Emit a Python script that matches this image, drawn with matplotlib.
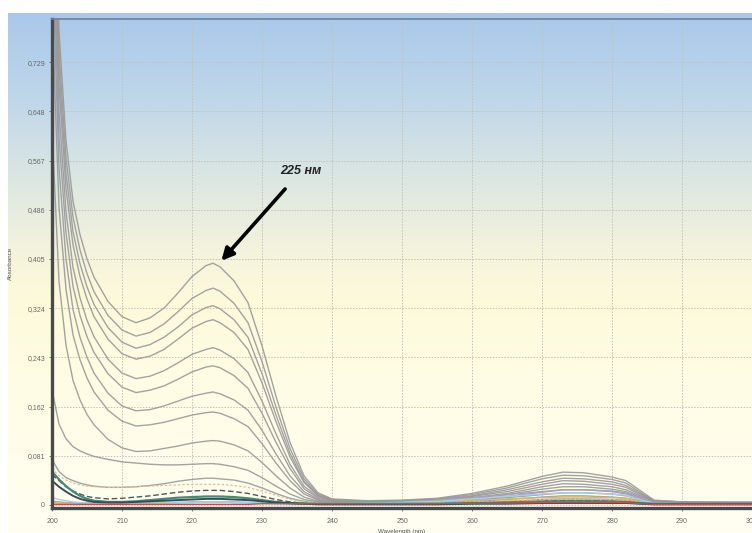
import matplotlib
matplotlib.use("Agg")
import numpy as np
import matplotlib.pyplot as plt
from matplotlib.colors import LinearSegmentedColormap

plt.rcParams["font.family"] = ["Liberation Sans", "DejaVu Sans"]

# wavelength grid, nm
wavelength = [200, 201, 202, 203, 204, 205, 206, 208, 210, 212,
              214, 216, 218, 220, 222, 223, 224,
              226, 228, 230, 232, 234, 236, 238, 240,
              245, 250, 255, 260, 265, 270, 273, 276, 280, 282, 284, 286, 290, 295, 300]

# grey spectra, highest concentration first
spec_1 = [1.212, 0.780, 0.600, 0.500, 0.445, 0.405, 0.375, 0.335, 0.310, 0.300,
          0.308, 0.324, 0.349, 0.376, 0.394, 0.398, 0.392,
          0.369, 0.333, 0.262, 0.179, 0.103, 0.048, 0.020, 0.010,
          0.007, 0.008, 0.011, 0.019, 0.031, 0.047, 0.054, 0.053, 0.046, 0.040, 0.024, 0.008, 0.005, 0.005, 0.005]
spec_2 = [1.171, 0.748, 0.572, 0.474, 0.420, 0.381, 0.351, 0.312, 0.288, 0.278,
          0.284, 0.298, 0.318, 0.340, 0.353, 0.357, 0.352,
          0.332, 0.300, 0.236, 0.161, 0.093, 0.043, 0.018, 0.009,
          0.006, 0.007, 0.010, 0.017, 0.028, 0.043, 0.049, 0.048, 0.042, 0.036, 0.021, 0.007, 0.005, 0.004, 0.004]
spec_3 = [1.132, 0.718, 0.546, 0.450, 0.397, 0.359, 0.330, 0.292, 0.268, 0.258,
          0.264, 0.276, 0.293, 0.313, 0.325, 0.328, 0.323,
          0.305, 0.276, 0.216, 0.148, 0.085, 0.039, 0.016, 0.008,
          0.006, 0.007, 0.009, 0.015, 0.025, 0.038, 0.044, 0.043, 0.038, 0.032, 0.019, 0.007, 0.005, 0.004, 0.004]
spec_4 = [1.095, 0.690, 0.521, 0.428, 0.376, 0.339, 0.310, 0.273, 0.249, 0.240,
          0.245, 0.256, 0.273, 0.291, 0.302, 0.305, 0.300,
          0.284, 0.256, 0.201, 0.137, 0.079, 0.037, 0.015, 0.008,
          0.005, 0.006, 0.008, 0.014, 0.022, 0.034, 0.040, 0.039, 0.034, 0.029, 0.017, 0.006, 0.004, 0.004, 0.004]
spec_5 = [1.044, 0.648, 0.483, 0.391, 0.341, 0.304, 0.277, 0.240, 0.217, 0.208,
          0.212, 0.221, 0.234, 0.248, 0.256, 0.259, 0.255,
          0.241, 0.218, 0.171, 0.117, 0.067, 0.031, 0.013, 0.007,
          0.005, 0.006, 0.007, 0.012, 0.019, 0.030, 0.035, 0.034, 0.030, 0.025, 0.015, 0.006, 0.004, 0.004, 0.003]
spec_6 = [0.983, 0.605, 0.448, 0.360, 0.312, 0.277, 0.251, 0.216, 0.194, 0.185,
          0.189, 0.196, 0.207, 0.219, 0.227, 0.229, 0.226,
          0.213, 0.192, 0.151, 0.103, 0.060, 0.027, 0.011, 0.006,
          0.004, 0.005, 0.007, 0.011, 0.017, 0.026, 0.030, 0.030, 0.026, 0.022, 0.013, 0.005, 0.004, 0.003, 0.003]
spec_7 = [0.915, 0.555, 0.405, 0.322, 0.276, 0.243, 0.217, 0.184, 0.163, 0.155,
          0.157, 0.163, 0.171, 0.179, 0.184, 0.186, 0.183,
          0.173, 0.156, 0.123, 0.084, 0.048, 0.022, 0.009, 0.005,
          0.004, 0.005, 0.006, 0.009, 0.014, 0.021, 0.025, 0.025, 0.022, 0.018, 0.011, 0.004, 0.003, 0.003, 0.003]
spec_8 = [0.814, 0.490, 0.355, 0.280, 0.239, 0.209, 0.186, 0.156, 0.138, 0.130,
          0.132, 0.136, 0.142, 0.148, 0.152, 0.153, 0.151,
          0.142, 0.129, 0.101, 0.069, 0.040, 0.018, 0.008, 0.004,
          0.003, 0.004, 0.005, 0.008, 0.012, 0.017, 0.020, 0.020, 0.018, 0.015, 0.009, 0.004, 0.003, 0.003, 0.002]
spec_9 = [0.620, 0.368, 0.263, 0.205, 0.173, 0.149, 0.132, 0.108, 0.094, 0.088,
          0.089, 0.093, 0.097, 0.102, 0.105, 0.106, 0.105,
          0.099, 0.089, 0.070, 0.048, 0.028, 0.013, 0.006, 0.003,
          0.003, 0.003, 0.004, 0.006, 0.009, 0.013, 0.015, 0.015, 0.013, 0.011, 0.007, 0.003, 0.002, 0.002, 0.002]
spec_10 = [0.190, 0.133, 0.109, 0.096, 0.089, 0.084, 0.080, 0.075, 0.071, 0.069,
           0.067, 0.066, 0.066, 0.067, 0.068, 0.068, 0.067,
           0.063, 0.057, 0.045, 0.031, 0.018, 0.009, 0.005, 0.003,
           0.003, 0.003, 0.003, 0.004, 0.006, 0.009, 0.010, 0.010, 0.009, 0.008, 0.005, 0.002, 0.002, 0.002, 0.002]
spec_11 = [0.075, 0.055, 0.045, 0.040, 0.036, 0.033, 0.031, 0.029, 0.029, 0.030,
           0.032, 0.035, 0.039, 0.042, 0.044, 0.044, 0.043,
           0.041, 0.036, 0.028, 0.019, 0.011, 0.006, 0.003, 0.002,
           0.002, 0.002, 0.003, 0.004, 0.005, 0.007, 0.008, 0.008, 0.007, 0.006, 0.004, 0.002, 0.002, 0.002, 0.002]

# low-level / blank traces
trace_orange = [0.060, 0.048, 0.041, 0.036, 0.033, 0.031, 0.030, 0.029, 0.029, 0.030,
                0.031, 0.032, 0.033, 0.034, 0.034, 0.034, 0.034,
                0.032, 0.029, 0.023, 0.016, 0.009, 0.005, 0.003, 0.002,
                0.002, 0.003, 0.004, 0.005, 0.007, 0.009, 0.010, 0.010, 0.009, 0.008, 0.005, 0.002, 0.001, 0.001, 0.001]
trace_dark = [0.050, 0.040, 0.030, 0.023, 0.018, 0.014, 0.012, 0.010, 0.011, 0.013,
              0.015, 0.018, 0.021, 0.023, 0.024, 0.024, 0.024,
              0.022, 0.019, 0.014, 0.009, 0.005, 0.003, 0.002, 0.001,
              0.001, 0.001, 0.002, 0.003, 0.004, 0.006, 0.007, 0.007, 0.006, 0.005, 0.003, 0.001, 0.001, 0.001, 0.001]
trace_teal = [0.055, 0.042, 0.031, 0.022, 0.015, 0.010, 0.007, 0.005, 0.005, 0.006,
              0.008, 0.010, 0.012, 0.013, 0.014, 0.014, 0.014,
              0.013, 0.011, 0.008, 0.005, 0.003, 0.002, 0.002, 0.002,
              0.002, 0.002, 0.002, 0.003, 0.004, 0.005, 0.006, 0.006, 0.005, 0.005, 0.003, 0.002, 0.002, 0.002, 0.002]
trace_slate = [0.040, 0.030, 0.022, 0.015, 0.010, 0.007, 0.005, 0.004, 0.004, 0.005,
               0.006, 0.007, 0.008, 0.009, 0.010, 0.010, 0.010,
               0.009, 0.008, 0.006, 0.004, 0.003, 0.002, 0.001, 0.001,
               0.001, 0.001, 0.001, 0.002, 0.002, 0.003, 0.003, 0.003, 0.003, 0.003, 0.002, 0.001, 0.001, 0.001, 0.001]
trace_blue = [0.012, 0.009, 0.007, 0.005, 0.004, 0.003, 0.003, 0.002, 0.002, 0.002,
              0.003, 0.003, 0.004, 0.004, 0.005, 0.005, 0.005,
              0.004, 0.004, 0.003, 0.002, 0.002, 0.002, 0.002, 0.002,
              0.003, 0.004, 0.006, 0.010, 0.014, 0.018, 0.020, 0.020, 0.018, 0.016, 0.009, 0.003, 0.002, 0.002, 0.002]
trace_purple = [0.006, 0.005, 0.004, 0.004, 0.003, 0.003, 0.003, 0.003, 0.003, 0.003,
                0.003, 0.004, 0.004, 0.005, 0.005, 0.005, 0.005,
                0.005, 0.004, 0.003, 0.003, 0.002, 0.002, 0.002, 0.002,
                0.003, 0.005, 0.008, 0.012, 0.017, 0.022, 0.025, 0.025, 0.023, 0.020, 0.012, 0.004, 0.003, 0.003, 0.003]
trace_yellow = [0.004, 0.003, 0.003, 0.003, 0.003, 0.003, 0.003, 0.003, 0.003, 0.003,
                0.003, 0.004, 0.004, 0.004, 0.005, 0.005, 0.005,
                0.004, 0.004, 0.003, 0.003, 0.003, 0.003, 0.003, 0.003,
                0.003, 0.004, 0.005, 0.008, 0.010, 0.012, 0.013, 0.013, 0.012, 0.011, 0.006, 0.002, 0.002, 0.002, 0.002]
trace_red = [0.001, 0.001, 0.001, 0.001, 0.001, 0.001, 0.001, 0.001, 0.001, 0.001,
             0.001, 0.001, 0.001, 0.001, 0.001, 0.001, 0.001,
             0.001, 0.001, 0.002, 0.002, 0.002, 0.002, 0.002, 0.002,
             0.002, 0.002, 0.002, 0.003, 0.003, 0.004, 0.004, 0.004, 0.004, 0.004, 0.002, 0.001, 0.001, 0.001, 0.001]

grey_spectra = [spec_1, spec_2, spec_3, spec_4, spec_5, spec_6, spec_7, spec_8, spec_9, spec_10, spec_11]

y_ticks = [0, 0.081, 0.162, 0.243, 0.324, 0.405, 0.486, 0.567, 0.648, 0.729]
y_tick_labels = ["0", "0,081", "0,162", "0,243", "0,324", "0,405", "0,486", "0,567", "0,648", "0,729"]
x_ticks = [200, 210, 220, 230, 240, 250, 260, 270, 280, 290, 300]

fig = plt.figure(figsize=(7.52, 5.33), dpi=100)

# blue-to-cream background behind everything
bg = fig.add_axes([8 / 752, 0, 1 - 8 / 752, 520 / 533])
bg_cmap = LinearSegmentedColormap.from_list("bg", [
    (0.0, "#fffff2"), (0.256, "#fffde6"), (0.448, "#fdfadb"), (0.544, "#f4f3dc"),
    (0.679, "#dce7e2"), (0.833, "#c0d7ea"), (1.0, "#a9c8e9")])
bg.imshow(np.linspace(0, 1, 256).reshape(-1, 1), aspect="auto", cmap=bg_cmap,
          origin="lower", extent=[0, 1, 0, 1])
bg.set_axis_off()

ax = fig.add_axes([52 / 752, 25 / 533, 700 / 752, 489 / 533])
ax.set_facecolor("none")

for spec in grey_spectra:
    ax.plot(wavelength, spec, color="#999999", lw=1.0, alpha=0.9, solid_joinstyle="round")
ax.plot(wavelength, trace_orange, color="#e8bc98", lw=0.9, ls=(0, (2, 1.5)))
ax.plot(wavelength, trace_dark, color="#555555", lw=1.0, ls=(0, (4, 2)))
ax.plot(wavelength, trace_purple, color="#a89cc8", lw=1.0)
ax.plot(wavelength, trace_yellow, color="#e0b850", lw=1.0)
ax.plot(wavelength, trace_blue, color="#9fd3e6", lw=1.0)
ax.plot(wavelength, trace_teal, color="#3f8c7c", lw=1.6)
ax.plot(wavelength, trace_slate, color="#3b4c58", lw=1.4)
ax.plot(wavelength, trace_red, color="#c0504d", lw=1.0)

ax.set_xlim(200, 300)
ax.set_ylim(-0.005, 0.80)
ax.set_xticks(x_ticks)
ax.set_yticks(y_ticks)
ax.set_yticklabels(y_tick_labels)
ax.tick_params(labelsize=5, colors="#666666", length=2, width=0.6)
ax.tick_params(axis="x", pad=5)
ax.tick_params(axis="y", pad=3)
ax.grid(True, color="#c2c2ba", lw=0.7, ls=(0, (1.5, 1.5)))

for side in ["left", "bottom"]:
    ax.spines[side].set_color("#4a4a4a")
    ax.spines[side].set_linewidth(2.4)
ax.spines["top"].set_color("#6f8296")
ax.spines["top"].set_linewidth(1.2)
ax.spines["right"].set_visible(False)

ax.set_ylabel("Absorbance", fontsize=4.5, color="#555555", labelpad=10)
ax.set_xlabel("Wavelength (nm)", fontsize=4.5, color="#555555", labelpad=3)

ax.annotate("225 нм", xy=(224.2, 0.402), xytext=(235.6, 0.550),
            fontsize=9, fontweight="bold", fontstyle="italic", color="#222222",
            ha="center", va="center",
            arrowprops=dict(arrowstyle="-|>", color="black", lw=2.6,
                            mutation_scale=18, shrinkA=9, shrinkB=0))

fig.savefig("out.png", dpi=100)
